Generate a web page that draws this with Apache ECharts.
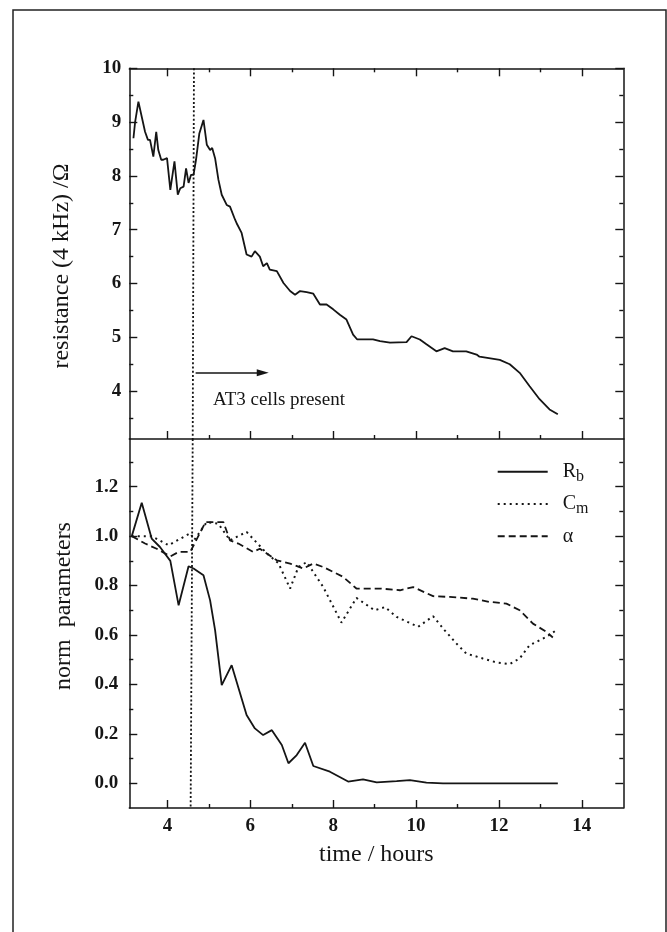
<!DOCTYPE html>
<html>
<head>
<meta charset="utf-8">
<script src="https://cdn.jsdelivr.net/npm/echarts@6/dist/echarts.min.js"></script>
<style>
  html, body { margin: 0; padding: 0; background: #fff; }
  #chart { width: 667px; height: 932px; }
</style>
</head>
<body>
<div id="chart"></div>
<script>
// Resistance at 4 kHz (upper panel)
const resTime = [3.18, 3.22, 3.30, 3.38, 3.46, 3.53, 3.58, 3.66, 3.73, 3.78, 3.85, 3.90, 3.99, 4.07, 4.17, 4.25, 4.31, 4.39, 4.45, 4.51, 4.57, 4.63, 4.69, 4.77, 4.87, 4.95, 5.03, 5.08, 5.15, 5.23, 5.31, 5.43, 5.51, 5.63, 5.67, 5.79, 5.91, 6.03, 6.11, 6.23, 6.31, 6.40, 6.47, 6.64, 6.80, 6.96, 7.08, 7.20, 7.36, 7.52, 7.68, 7.84, 8.00, 8.16, 8.32, 8.48, 8.58, 8.96, 9.13, 9.37, 9.77, 9.89, 10.09, 10.25, 10.49, 10.69, 10.89, 11.21, 11.46, 11.53, 12.02, 12.26, 12.50, 12.74, 12.98, 13.22, 13.42];
const resValue = [8.70, 9.00, 9.38, 9.10, 8.82, 8.67, 8.67, 8.36, 8.82, 8.48, 8.30, 8.30, 8.33, 7.74, 8.27, 7.65, 7.77, 7.80, 8.14, 7.87, 8.02, 8.02, 8.30, 8.79, 9.04, 8.58, 8.48, 8.52, 8.33, 7.93, 7.65, 7.46, 7.43, 7.19, 7.12, 6.94, 6.54, 6.50, 6.60, 6.50, 6.32, 6.38, 6.26, 6.23, 6.01, 5.86, 5.79, 5.86, 5.84, 5.81, 5.61, 5.61, 5.52, 5.42, 5.33, 5.05, 4.96, 4.96, 4.93, 4.90, 4.91, 5.02, 4.96, 4.87, 4.74, 4.80, 4.74, 4.74, 4.68, 4.64, 4.58, 4.50, 4.34, 4.09, 3.85, 3.66, 3.57];

// Normalised fit parameters (lower panel)
const rbTime = [3.14, 3.38, 3.62, 3.82, 4.07, 4.27, 4.51, 4.63, 4.87, 5.03, 5.15, 5.31, 5.55, 5.91, 6.11, 6.31, 6.52, 6.76, 6.92, 7.12, 7.32, 7.52, 7.92, 8.36, 8.72, 9.05, 9.53, 9.85, 10.25, 10.65, 11.29, 11.77, 12.42, 13.42];
const rbValue = [1.00, 1.135, 0.99, 0.956, 0.90, 0.72, 0.878, 0.869, 0.842, 0.74, 0.62, 0.397, 0.478, 0.276, 0.222, 0.195, 0.215, 0.155, 0.081, 0.114, 0.164, 0.07, 0.047, 0.007, 0.016, 0.004, 0.009, 0.013, 0.003, 0.0, 0.0, 0.0, 0.0, 0.0];

const cmTime = [3.14, 3.62, 4.03, 4.55, 4.65, 4.95, 5.23, 5.51, 5.91, 6.40, 6.68, 6.96, 7.16, 7.36, 7.76, 8.20, 8.56, 9.00, 9.25, 9.53, 10.05, 10.41, 10.69, 10.97, 11.21, 11.61, 11.94, 12.26, 12.50, 12.74, 12.90, 13.14, 13.38];
const cmValue = [1.00, 1.00, 0.963, 1.012, 0.985, 1.057, 1.05, 0.983, 1.017, 0.93, 0.89, 0.788, 0.875, 0.895, 0.794, 0.65, 0.75, 0.70, 0.713, 0.673, 0.633, 0.676, 0.619, 0.566, 0.525, 0.505, 0.489, 0.482, 0.505, 0.559, 0.572, 0.592, 0.619];

const alphaTime = [3.14, 3.46, 3.74, 4.07, 4.27, 4.55, 4.92, 5.35, 5.51, 5.71, 6.07, 6.23, 6.64, 6.96, 7.28, 7.52, 7.76, 8.24, 8.56, 9.13, 9.61, 9.93, 10.41, 10.81, 11.37, 11.77, 12.18, 12.50, 12.82, 13.14, 13.30];
const alphaValue = [1.00, 0.97, 0.949, 0.918, 0.936, 0.936, 1.057, 1.057, 0.983, 0.97, 0.936, 0.949, 0.902, 0.889, 0.869, 0.889, 0.875, 0.835, 0.788, 0.788, 0.781, 0.794, 0.757, 0.754, 0.747, 0.734, 0.727, 0.70, 0.646, 0.613, 0.59];

// Tick positions
const xMajor = [4, 6, 8, 10, 12, 14];
const xMinor = [5, 7, 9, 11, 13];
const resMajor = [4, 5, 6, 7, 8, 9, 10];
const resMinor = [3.5, 4.5, 5.5, 6.5, 7.5, 8.5, 9.5];
const normMajor = [0, 0.2, 0.4, 0.6, 0.8, 1.0, 1.2];
const normMinor = [0.1, 0.3, 0.5, 0.7, 0.9, 1.1, 1.3];

// Time at which cells were added, and the annotation arrow
const cellsLine = { xTop: 4.64, xMid: 4.61, xBottom: 4.56 };
const arrowSpan = { from: 4.68, to: 6.3, level: 4.34 };
const cellsText = 'AT3 cells present';
const legendText = { 'Rb': 'R{sub|b}', 'Cm': 'C{sub|m}', 'α': 'α' };

const FONT = "'Liberation Serif', 'Times New Roman', serif";
const INK = '#151515';

const X_RANGE = [3.08, 15];
const RES_RANGE = [3.11, 10];
const NORM_RANGE = [-0.1, 1.393];

function pairs(xs, ys) { return xs.map((x, i) => [x, ys[i]]); }

function axis(gridIndex, position, range, ticks, len, opts) {
  opts = opts || {};
  const a = {
    type: 'value',
    gridIndex: gridIndex,
    position: position,
    min: range[0],
    max: range[1],
    splitLine: { show: false },
    axisLine: { show: !!opts.line, onZero: false, lineStyle: { color: INK, width: 1.5 } },
    axisTick: { show: ticks.length > 0, inside: true, length: len, customValues: ticks, lineStyle: { color: INK, width: 1.4 } },
    axisLabel: { show: false }
  };
  if (opts.labels) {
    a.axisLabel = {
      show: true,
      customValues: ticks,
      margin: opts.margin,
      color: INK,
      fontFamily: FONT,
      fontSize: 19,
      fontWeight: 'bold',
      formatter: opts.fmt
    };
  }
  if (opts.name) Object.assign(a, opts.name);
  return a;
}

const xAxes = [
  axis(0, 'bottom', X_RANGE, xMajor, 8, { line: true }),
  axis(0, 'bottom', X_RANGE, xMinor, 4, {}),
  axis(0, 'top', X_RANGE, xMajor, 8, { line: true }),
  axis(0, 'top', X_RANGE, xMinor, 4, {}),
  axis(1, 'bottom', X_RANGE, xMajor, 8, {
    line: true, labels: true, margin: 9, fmt: v => String(v),
    name: {
      name: 'time / hours', nameLocation: 'middle', nameGap: 35,
      nameTextStyle: { fontFamily: FONT, fontSize: 24, color: INK }
    }
  }),
  axis(1, 'bottom', X_RANGE, xMinor, 4, {}),
  axis(1, 'top', X_RANGE, [], 0, { line: false })
];

const yAxes = [
  axis(0, 'left', RES_RANGE, resMajor, 8, { line: true, labels: true, margin: 8, fmt: v => String(Math.round(v)) }),
  axis(0, 'left', RES_RANGE, resMinor, 4, {}),
  axis(0, 'right', RES_RANGE, resMajor, 8, { line: true }),
  axis(0, 'right', RES_RANGE, resMinor, 4, {}),
  axis(1, 'left', NORM_RANGE, normMajor, 8, { line: true, labels: true, margin: 11, fmt: v => v.toFixed(1) }),
  axis(1, 'left', NORM_RANGE, normMinor, 4, {}),
  axis(1, 'right', NORM_RANGE, normMajor, 8, { line: true }),
  axis(1, 'right', NORM_RANGE, normMinor, 4, {})
];

const lineBase = { type: 'line', symbol: 'none', animation: false, z: 3, itemStyle: { color: INK } };

const option = {
  animation: false,
  backgroundColor: '#fff',
  textStyle: { fontFamily: FONT },
  grid: [
    { left: 129.3, top: 68.3, width: 494, height: 370.7, outerBoundsMode: 'none', containLabel: false },
    { left: 129.3, top: 439, width: 494, height: 369, outerBoundsMode: 'none', containLabel: false }
  ],
  xAxis: xAxes,
  yAxis: yAxes,
  legend: {
    orient: 'vertical',
    left: 496.7,
    top: 458.7,
    padding: 0,
    itemWidth: 50,
    itemHeight: 26,
    itemGap: 6.3,
    itemStyle: { opacity: 0 },
    data: ['Rb', 'Cm', 'α'],
    formatter: name => legendText[name],
    textStyle: {
      fontFamily: FONT,
      fontSize: 20,
      color: INK,
      padding: [0, 0, 0, 10],
      lineHeight: 26,
      rich: {
        sub: { fontFamily: FONT, fontSize: 16, color: INK, verticalAlign: 'top', lineHeight: 16, padding: [10, 0, 0, 0] }
      }
    }
  },
  graphic: [
    {
      type: 'rect',
      shape: { x: 13, y: 10, width: 653, height: 940 },
      style: { fill: 'none', stroke: '#222', lineWidth: 1.5 },
      silent: true
    },
    {
      type: 'text',
      x: 62, y: 266,
      rotation: Math.PI / 2,
      style: { text: 'resistance (4 kHz) /Ω', font: "24px 'Liberation Serif', serif", fill: INK, align: 'center', verticalAlign: 'middle' }
    },
    {
      type: 'text',
      x: 64, y: 606,
      rotation: Math.PI / 2,
      style: { text: 'norm  parameters', font: "24px 'Liberation Serif', serif", fill: INK, align: 'center', verticalAlign: 'middle' }
    }
  ],
  series: [
    Object.assign({}, lineBase, {
      name: 'resistance',
      xAxisIndex: 0, yAxisIndex: 0,
      data: pairs(resTime, resValue),
      lineStyle: { color: INK, width: 1.8 },
      markLine: {
        silent: true,
        animation: false,
        label: { show: false },
        data: [
          [
            { coord: [cellsLine.xTop, RES_RANGE[1]], symbol: 'none', lineStyle: { color: INK, width: 1.8, type: [2, 2.2] } },
            { coord: [cellsLine.xMid, RES_RANGE[0]], symbol: 'none' }
          ],
          [
            { coord: [arrowSpan.from, arrowSpan.level], symbol: 'none', lineStyle: { color: INK, width: 1.6, type: 'solid' } },
            { coord: [arrowSpan.to, arrowSpan.level], symbol: 'triangle', symbolSize: [7, 12] }
          ]
        ]
      },
      markPoint: {
        silent: true,
        animation: false,
        data: [{
          coord: [5.1, 3.83],
          symbol: 'circle',
          symbolSize: 0,
          label: {
            show: true, position: 'right', distance: 0,
            formatter: cellsText,
            fontFamily: FONT, fontSize: 19, color: INK
          }
        }]
      }
    }),
    Object.assign({}, lineBase, {
      name: 'Rb',
      xAxisIndex: 4, yAxisIndex: 4,
      data: pairs(rbTime, rbValue),
      lineStyle: { color: INK, width: 1.8, type: 'solid' },
      markLine: {
        silent: true,
        animation: false,
        label: { show: false },
        data: [[
          { coord: [cellsLine.xMid, NORM_RANGE[1]], symbol: 'none', lineStyle: { color: INK, width: 1.8, type: [2, 2.2] } },
          { coord: [cellsLine.xBottom, NORM_RANGE[0]], symbol: 'none' }
        ]]
      }
    }),
    Object.assign({}, lineBase, {
      name: 'Cm',
      xAxisIndex: 4, yAxisIndex: 4,
      data: pairs(cmTime, cmValue),
      lineStyle: { color: INK, width: 2, type: [2, 4] }
    }),
    Object.assign({}, lineBase, {
      name: 'α',
      xAxisIndex: 4, yAxisIndex: 4,
      data: pairs(alphaTime, alphaValue),
      lineStyle: { color: INK, width: 1.8, type: [7, 4] }
    })
  ]
};

const chart = echarts.init(document.getElementById('chart'), null, { renderer: 'canvas' });
chart.setOption(option);
</script>
</body>
</html>
